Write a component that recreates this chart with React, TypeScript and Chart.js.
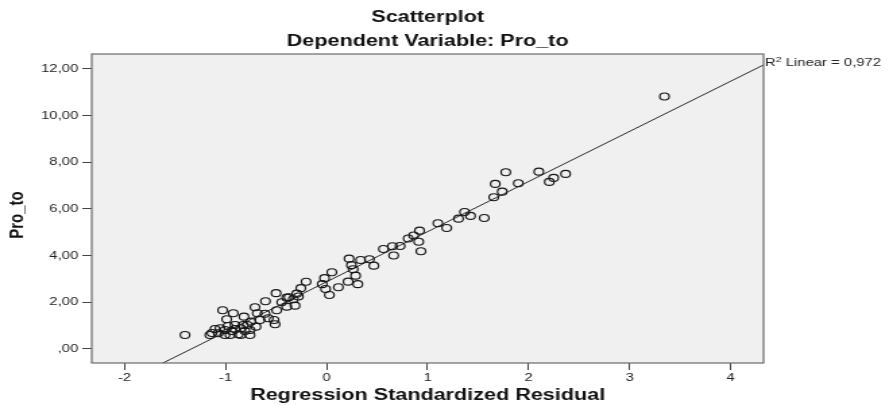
import React, { useEffect, useRef } from "react";
import { Chart, registerables } from "chart.js";

Chart.register(...registerables);

const chartTitle = "Scatterplot";
const chartSubtitle = "Dependent Variable: Pro_to";
const xAxisTitle = "Regression Standardized Residual";
const yAxisTitle = "Pro_to";
const fitLabelMain = "R";
const fitLabelSup = "2";
const fitLabelRest = " Linear = 0,972";

// Regression Standardized Residual (x) and Pro_to (y)
const residuals = [
  3.345, 1.774, 2.101, 2.366, 2.248, 2.205, 1.67, 1.898, 1.739, 1.655,
  1.366, 1.425, 1.306, 1.561, 1.102, 1.189, 0.92, 0.862, 0.808, 0.912,
  0.728, 0.652, 0.563, 0.934, 0.664, 0.223, 0.337, 0.424, 0.468, 0.246,
  0.263, 0.287, 0.213, 0.309, 0.052, -0.02, -0.043, -0.01, 0.117, 0.028,
  -0.203, -0.255, -0.295, -0.5, -0.372, -0.279, -0.444, -0.605, -0.329, -0.312,
  -0.394, -0.709, -0.924, -0.61, -0.494, -1.029, -0.686, -0.989, -0.52, -0.51,
  -0.577, -0.659, -0.751, -0.785, -0.699, -0.758, -0.85, -0.907, -0.874, -0.758,
  -0.94, -1.006, -1.055, -1.105, -1.155, -1.006, -0.956, -1.072, -0.907, -0.825,
  -1.402, -0.394, -0.85, -0.808, -0.976, -0.818, -1.135,
];
const proTo = [
  10.82, 7.574, 7.6, 7.501, 7.33, 7.158, 7.072, 7.102, 6.742, 6.502,
  5.872, 5.701, 5.585, 5.615, 5.388, 5.186, 5.071, 4.865, 4.736, 4.595,
  4.415, 4.402, 4.286, 4.188, 4.008, 3.871, 3.815, 3.845, 3.57, 3.592,
  3.416, 3.142, 2.885, 2.778, 3.288, 3.035, 2.778, 2.572, 2.645, 2.315,
  2.88, 2.606, 2.37, 2.392, 2.216, 2.25, 2.002, 2.045, 2.13, 1.856,
  1.813, 1.787, 1.53, 1.509, 1.659, 1.659, 1.53, 1.273, 1.243, 1.059,
  1.316, 1.243, 1.17, 1.029, 0.956, 0.814, 0.887, 1.029, 0.63, 0.6,
  0.772, 0.814, 0.887, 0.857, 0.6, 0.6, 0.6, 0.673, 0.857, 1.029,
  0.6, 2.199, 0.6, 0.772, 0.986, 1.386, 0.686,
];

const xTickValues = [-2, -1, 0, 1, 2, 3, 4];
const yTickValues = [0, 2, 4, 6, 8, 10, 12];
const xMin = -2.325;
const xMax = 4.326;
const yMin = -0.6;
const yMax = 12.64;

// fit line
const fitIntercept = 2.88;
const fitSlope = 2.148;

const FONT = 'Arial, "Liberation Sans", sans-serif';
const CANVAS_W = 659;
const CANVAS_H = 405;
const DISPLAY_W = 889;

const formatY = (v: number) => {
  const s = v.toFixed(2).replace(".", ",");
  return s.startsWith("0,") ? s.slice(1) : s;
};

const decorPlugin = {
  id: "decor",
  beforeDraw(chart: any) {
    const { ctx, chartArea: a } = chart;
    ctx.save();
    ctx.fillStyle = "#ffffff";
    ctx.fillRect(0, 0, chart.width, chart.height);
    ctx.fillStyle = "#f0f0f0";
    ctx.fillRect(a.left, a.top, a.right - a.left, a.bottom - a.top);
    ctx.restore();
  },
  afterDraw(chart: any) {
    const { ctx, chartArea: a, scales } = chart;
    ctx.save();
    ctx.strokeStyle = "#6a6a6a";
    ctx.lineWidth = 1.2;
    ctx.strokeRect(a.left, a.top, a.right - a.left, a.bottom - a.top);

    const cx = (a.left + a.right) / 2;
    ctx.fillStyle = "#111111";
    ctx.textAlign = "center";
    ctx.textBaseline = "alphabetic";
    ctx.font = `bold 16px ${FONT}`;
    ctx.fillText(chartTitle, cx, 22);
    ctx.fillText(chartSubtitle, cx, 46);
    ctx.fillText(xAxisTitle, cx, 400);

    ctx.save();
    ctx.translate(17, 215);
    ctx.rotate(-Math.PI / 2);
    ctx.font = `bold 15px ${FONT}`;
    ctx.fillText(yAxisTitle, 0, 0);
    ctx.restore();

    const yEnd = scales.y.getPixelForValue(fitIntercept + fitSlope * xMax);
    ctx.textAlign = "left";
    ctx.fillStyle = "#222222";
    let x = a.right + 1;
    const base = yEnd + 1.5;
    ctx.font = `11px ${FONT}`;
    ctx.fillText(fitLabelMain, x, base);
    x += ctx.measureText(fitLabelMain).width;
    ctx.font = `8px ${FONT}`;
    ctx.fillText(fitLabelSup, x, base - 4);
    x += ctx.measureText(fitLabelSup).width;
    ctx.font = `11px ${FONT}`;
    ctx.fillText(fitLabelRest, x, base);
    ctx.restore();
  },
};

export default function App() {
  const canvasRef = useRef<HTMLCanvasElement | null>(null);

  useEffect(() => {
    const canvas = canvasRef.current;
    if (!canvas) return;
    const points = residuals.map((x, i) => ({ x, y: proTo[i] }));
    const fitLine = [
      { x: xMin, y: fitIntercept + fitSlope * xMin },
      { x: xMax, y: fitIntercept + fitSlope * xMax },
    ];
    const chart = new Chart(canvas, {
      type: "scatter",
      data: {
        datasets: [
          {
            type: "scatter",
            label: "Pro_to",
            data: points,
            pointStyle: "circle",
            pointRadius: 3.5,
            borderColor: "#161616",
            borderWidth: 1.15,
            backgroundColor: "rgba(0,0,0,0)",
          },
          {
            type: "line",
            label: "Linear fit",
            data: fitLine,
            borderColor: "#2a2a2a",
            borderWidth: 1,
            pointRadius: 0,
            fill: false,
          } as any,
        ],
      },
      options: {
        responsive: false,
        devicePixelRatio: 1,
        animation: false,
        events: [],
        layout: { padding: { top: 54, right: 93, bottom: 0, left: 0 } },
        plugins: {
          legend: { display: false },
          tooltip: { enabled: false },
          title: { display: false },
        },
        scales: {
          x: {
            type: "linear",
            min: xMin,
            max: xMax,
            afterBuildTicks: (s: any) => {
              s.ticks = xTickValues.map((v) => ({ value: v }));
            },
            afterFit: (s: any) => {
              s.height = 42;
            },
            grid: { drawOnChartArea: false, drawTicks: true, tickLength: 7, color: "#444444" },
            border: { display: false },
            ticks: {
              font: { family: FONT, size: 11 },
              color: "#222222",
              padding: 1,
              maxRotation: 0,
              callback: (v: any) => String(v),
            },
          },
          y: {
            type: "linear",
            min: yMin,
            max: yMax,
            afterBuildTicks: (s: any) => {
              s.ticks = yTickValues.map((v) => ({ value: v }));
            },
            afterFit: (s: any) => {
              s.width = 68;
            },
            grid: { drawOnChartArea: false, drawTicks: true, tickLength: 7, color: "#444444" },
            border: { display: false },
            ticks: {
              font: { family: FONT, size: 11 },
              color: "#222222",
              padding: 3,
              callback: (v: any) => formatY(Number(v)),
            },
          },
        },
      },
      plugins: [decorPlugin],
    });
    return () => chart.destroy();
  }, []);

  return (
    <div style={{ position: "fixed", left: 0, top: 0, width: DISPLAY_W, height: CANVAS_H, background: "#fff" }}>
      <canvas
        ref={canvasRef}
        width={CANVAS_W}
        height={CANVAS_H}
        style={{ width: DISPLAY_W + "px", height: CANVAS_H + "px", display: "block" }}
      />
    </div>
  );
}
